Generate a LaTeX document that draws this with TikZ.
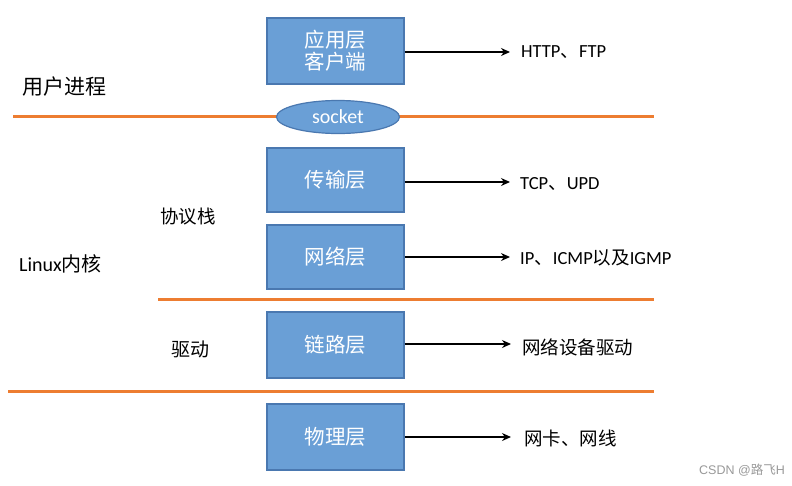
\documentclass[tikz,border=0pt]{standalone}
\usepackage{fontspec}
\usetikzlibrary{shapes.geometric,arrows.meta}
\setmainfont{Noto Sans CJK SC}
\newfontfamily\latfont{Carlito}
\newfontfamily\wmfont{Liberation Sans}
\newfontfamily\cjkfont{Noto Sans CJK SC}
\newcommand{\lat}[1]{{\latfont #1}}
\definecolor{boxfill}{HTML}{6A9FD6}
\definecolor{boxline}{HTML}{4A78B0}
\definecolor{sepline}{HTML}{ED7D31}
\begin{document}
\begin{tikzpicture}[x=1pt,y=-1pt,
  layerbox/.style={draw=boxline,line width=1.2pt,fill=boxfill,minimum width=137pt,minimum height=66pt,inner sep=0pt,text=white,font=\fontsize{20.5}{24}\selectfont,align=center},
  sockoval/.style={ellipse,draw=boxline,line width=1.2pt,fill=boxfill,minimum width=123pt,minimum height=33pt,inner sep=0pt,text=white,font=\latfont\fontsize{20}{22}\selectfont},
  sep/.style={draw=sepline,line width=3pt},
  arr/.style={-{Stealth[length=9pt,width=8pt]},line width=1.4pt,black},
  rlabel/.style={anchor=west,font=\fontsize{18.5}{22}\selectfont,inner sep=0pt},
  llabel/.style={anchor=west,font=\fontsize{19}{22}\selectfont,inner sep=0pt}]
\useasboundingbox (0,0) rectangle (792,485);
\fill[white] (0,0) rectangle (792,485);
% separators
\coordinate (s1a) at (13,116); \coordinate (s1b) at (654,116);
\coordinate (s2a) at (158,299); \coordinate (s2b) at (654,299);
\coordinate (s3a) at (8,391); \coordinate (s3b) at (654,391);
\draw[sep] (s1a) -- (s1b);
\draw[sep] (s2a) -- (s2b);
\draw[sep] (s3a) -- (s3b);
% boxes
\node[layerbox] (app) at (335.5,51) {应用层\\[-2pt]客户端};
\node[sockoval] (sock) at (338,117) {socket};
\node[layerbox,minimum height=64pt] (trans) at (335.5,180) {传输层};
\node[layerbox,minimum height=64pt] (net) at (335.5,257) {网络层};
\node[layerbox] (link) at (335.5,345) {链路层};
\node[layerbox] (phys) at (335.5,437) {物理层};
% right labels
\node[rlabel] (l1) at (521,52) {\lat{HTTP}、\lat{FTP}};
\node[rlabel] (l2) at (520,184) {\lat{TCP}、\lat{UPD}};
\node[rlabel] (l3) at (520,258) {\lat{IP}、\lat{ICMP}以及\lat{IGMP}};
\node[rlabel] (l4) at (522,347) {网络设备驱动};
\node[rlabel] (l5) at (524,438) {网卡、网线};
\draw[arr] (app.east |- 0,52) -- (510,52);
\draw[arr] (trans.east |- 0,182) -- (510,182);
\draw[arr] (net.east |- 0,257) -- (510,257);
\draw[arr] (link.east |- 0,344) -- (511,344);
\draw[arr] (phys.east |- 0,437) -- (511,437);
% left labels
\node[llabel,font=\fontsize{21}{24}\selectfont] (user) at (22,87) {用户进程};
\node[llabel,font=\fontsize{18.5}{22}\selectfont] (stack) at (160,217) {协议栈};
\node[llabel,font=\fontsize{20}{22}\selectfont] (kernel) at (19,264) {\lat{Linux}内核};
\node[llabel] (drv) at (171,349) {驱动};
% watermark
\node[anchor=east,inner sep=0pt,text=gray!80,font=\wmfont\fontsize{12.5}{14}\selectfont] (wm) at (785,470) {CSDN @{\cjkfont 路飞}H};
\end{tikzpicture}
\end{document}
